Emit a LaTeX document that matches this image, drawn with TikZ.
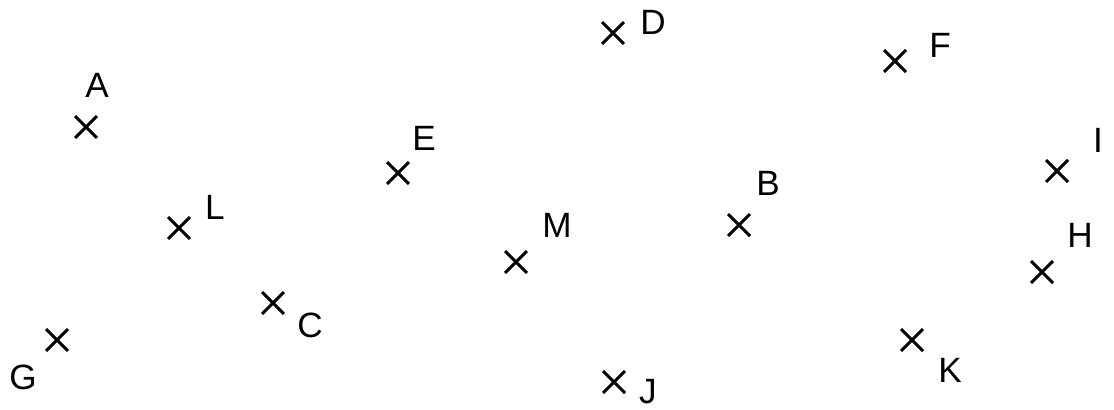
\documentclass[tikz,border=0pt]{standalone}
\usepackage{fontspec}
\setsansfont{Liberation Sans}
\usepackage{tikz}
\usetikzlibrary{shapes.misc}

\tikzset{
    pt/.style={cross out, draw, line width=1.7pt, minimum size=0.38cm, inner sep=0pt},
    lbl/.style={font=\sffamily\fontsize{20}{22}\selectfont, inner sep=0pt}
}

\begin{document}
\begin{tikzpicture}[x=0.02cm, y=-0.02cm]
    % Frame (pixel coordinates of the sheet)
    \useasboundingbox (0,0) rectangle (1114,409);

    % Points and their letters
    \foreach \n/\px/\py/\lx/\ly in {A/86/127/97/85, B/739/225/768/183, C/273/303/310/325,
        D/613/33/653/22, E/398/173/424/138, F/895/61/940/45, G/57/340/23/377,
        H/1042/272/1080/235, I/1057/171/1098/140, J/614/382/648/392,
        K/912/340/950/370, L/179/228/215/207, M/516/262/557/225} {
        \node[pt] (\n) at (\px,\py) {};
        \node[lbl] (l\n) at (\lx,\ly) {\n};
    }
\end{tikzpicture}
\end{document}
